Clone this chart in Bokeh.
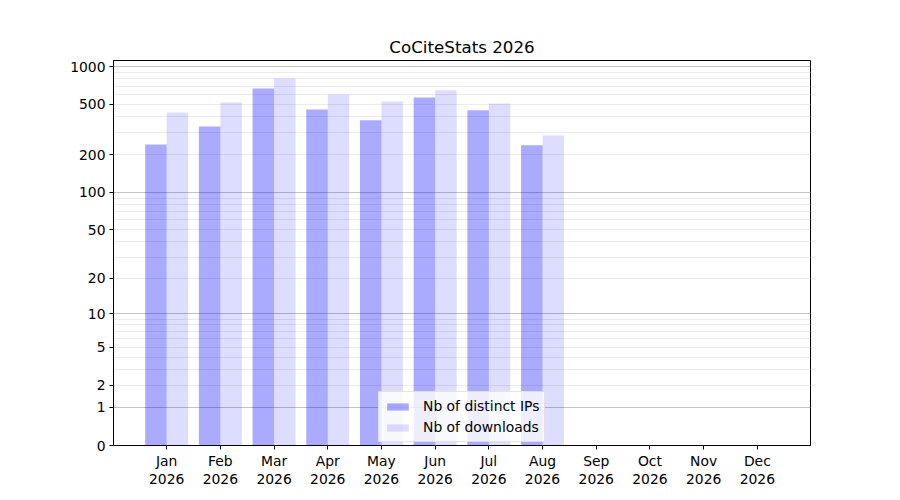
import numpy as np
from bokeh.plotting import figure
from bokeh.models import ColumnDataSource, FixedTicker, Grid, Legend, LegendItem, Title
from bokeh.transform import dodge
from bokeh.embed import file_html
from bokeh.resources import INLINE

# ---- data ----
months = ["Jan", "Feb", "Mar", "Apr", "May", "Jun", "Jul", "Aug", "Sep", "Oct", "Nov", "Dec"]
year = "2026"
distinct_ips = [241, 335, 670, 457, 374, 569, 449, 237, 0, 0, 0, 0]
downloads = [432, 519, 805, 600, 529, 647, 510, 284, 0, 0, 0, 0]
y_tick_values = [0, 1, 2, 5, 10, 20, 50, 100, 200, 500, 1000]
y_major_grid = [1, 10, 100, 1000]
y_minor_grid = [2, 3, 4, 5, 6, 7, 8, 9, 20, 30, 40, 50, 60, 70, 80, 90,
                200, 300, 400, 500, 600, 700, 800, 900]

def fscale(v):
    # y scale: log10(1 + v)
    return np.log10(1.0 + np.asarray(v, dtype=float))

FONT = "DejaVu Sans"

idx = list(range(len(months)))
src = ColumnDataSource(dict(
    x=idx,
    ips=fscale(distinct_ips),
    dl=fscale(downloads),
))

p = figure(width=884, height=491, output_backend="svg", toolbar_location=None,
           x_range=(-0.99, 11.99), y_range=(0, 3.048),
           min_border_left=113, min_border_right=74, min_border_top=60, min_border_bottom=46)

p.title = Title(text="CoCiteStats " + year, align="center", text_font=FONT,
                text_font_size="16.7px", text_font_style="normal", text_color="black",
                standoff=8)

r1 = p.vbar(x=dodge("x", -0.2, range=p.x_range), top="ips", bottom=0, width=0.4, source=src,
            fill_color="blue", fill_alpha=1/3, line_color=None)
r2 = p.vbar(x=dodge("x", 0.2, range=p.x_range), top="dl", bottom=0, width=0.4, source=src,
            fill_color="blue", fill_alpha=0.1333, line_color=None)

# grids
p.xgrid.visible = False
p.ygrid.ticker = FixedTicker(ticks=list(fscale(y_major_grid)))
p.ygrid.grid_line_color = "#c4c4c4"
p.ygrid.grid_line_width = 1
minor = Grid(dimension=1, ticker=FixedTicker(ticks=list(fscale(y_minor_grid))),
             grid_line_color="#ebebeb", grid_line_width=1, level="underlay")
p.add_layout(minor)

# axes
p.xaxis.ticker = FixedTicker(ticks=idx)
p.xaxis.major_label_overrides = {i: f"{m}\n{year}" for i, m in zip(idx, months)}
yt = list(fscale(y_tick_values))
p.yaxis.ticker = FixedTicker(ticks=yt)
p.yaxis.major_label_overrides = {t: str(v) for t, v in zip(yt, y_tick_values)}

for ax in (p.xaxis[0], p.yaxis[0]):
    ax.major_label_text_font = FONT
    ax.major_label_text_font_size = "13.9px"
    ax.major_label_text_color = "black"
    ax.axis_line_color = "black"
    ax.axis_line_width = 1
    ax.major_tick_line_color = "black"
    ax.major_tick_out = 4
    ax.major_tick_in = 0
    ax.minor_tick_out = 0
    ax.minor_tick_in = 0
    ax.major_label_standoff = 4
p.xaxis[0].major_label_text_line_height = 1.15
p.xaxis[0].major_label_standoff = 3

p.outline_line_color = "black"
p.outline_line_alpha = 1
p.outline_line_width = 1
p.background_fill_color = "white"
p.border_fill_color = "white"

legend = Legend(items=[LegendItem(label="Nb of distinct IPs", renderers=[r1]),
                       LegendItem(label="Nb of downloads", renderers=[r2])],
                location=(265, 3), orientation="vertical",
                label_text_font=FONT, label_text_font_size="13.9px", label_text_color="black",
                glyph_width=27, glyph_height=9, label_height=18, label_standoff=12,
                spacing=3, padding=5, margin=0,
                border_line_color="#cccccc", border_line_width=1,
                background_fill_color="white", background_fill_alpha=0.8)
p.add_layout(legend, "center")

open("out.html", "w").write(file_html(p, INLINE))
